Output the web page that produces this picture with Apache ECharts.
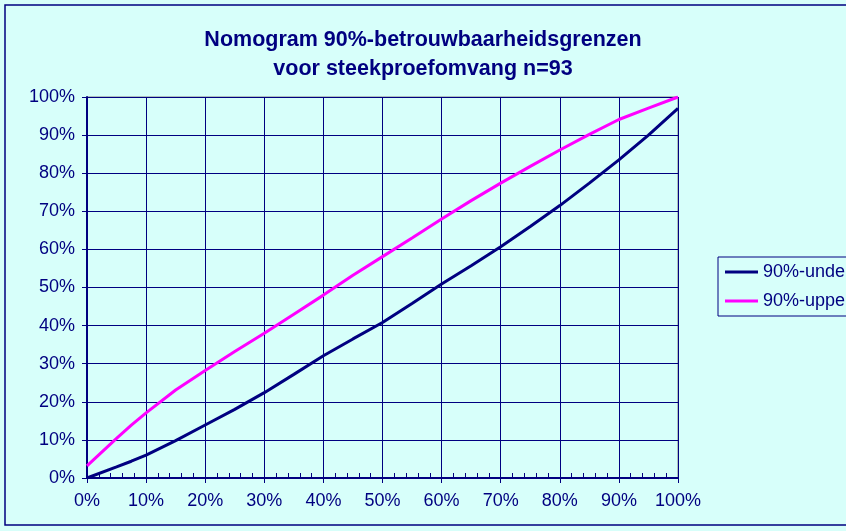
<!DOCTYPE html>
<html style="height: 100%">
	<head>
		<meta charset="utf-8">
	</head>
	<body style="height: 100%; margin: 0">
		<div id="container" style="width: 846px; height: 531px"></div>
		<script type="text/javascript" src="https://cdn.jsdelivr.net/npm/echarts@6/dist/echarts.min.js"></script>
		<script type="text/javascript">
			// steekproefpercentage (x) and the two confidence limits (y), in %
			const xs = [0, 5, 7.5, 10, 15, 20, 25, 30, 35, 40, 45, 50, 55, 60, 65, 70, 75, 80, 85, 90, 95, 100];
			const under = [0, 2.9, 4.4, 6, 9.8, 13.9, 18, 22.4, 27.2, 32.1, 36.5, 40.8, 45.8, 50.9, 55.7, 60.7, 66, 71.5, 77.4, 83.5, 90, 97];
			const upper = [3.2, 10.4, 13.9, 17.1, 23.1, 28.2, 33.2, 38, 43, 48, 53.2, 58.1, 63, 68, 72.8, 77.4, 81.8, 86.1, 90.2, 94.1, 97.1, 100];
			const seriesNames = ['90%-under', '90%-upper'];

			const navy = '#000080';
			const dom = document.getElementById('container');
			const myChart = echarts.init(dom);

			function pairs(ys) {
				return xs.map(function(x, i) { return [x, ys[i]]; });
			}

			const labelStyle = {
				color: navy,
				fontFamily: 'Liberation Sans, Arial, sans-serif',
				fontSize: 18
			};

			const option = {
				backgroundColor: '#d7fffa',
				animation: false,
				title: {
					text: 'Nomogram 90%-betrouwbaarheidsgrenzen\nvoor steekproefomvang n=93',
					left: 'center',
					top: 26,
					padding: [0, 0, 0, 6],
					textStyle: {
						color: navy,
						fontFamily: 'Liberation Sans, Arial, sans-serif',
						fontWeight: 'bold',
						fontSize: 21.5,
						lineHeight: 29
					}
				},
				legend: {
					orient: 'vertical',
					left: 718,
					top: 257,
					padding: [6, 20, 6, 7],
					itemGap: 11,
					itemWidth: 33,
					itemHeight: 3,
					icon: 'rect',
					borderColor: navy,
					borderWidth: 1,
					textStyle: labelStyle,
					data: seriesNames
				},
				grid: {
					left: 87,
					right: 168,
					top: 97,
					bottom: 53,
					show: true,
					borderColor: '#808080',
					borderWidth: 1,
					backgroundColor: 'transparent'
				},
				xAxis: [{
					type: 'value',
					min: 0,
					max: 100,
					interval: 10,
					axisLine: { lineStyle: { color: navy, width: 2 } },
					axisTick: { length: 5, lineStyle: { color: navy } },
					axisLabel: Object.assign({ margin: 14, formatter: '{value}%' }, labelStyle),
					splitLine: { lineStyle: { color: navy, width: 1 } }
				}, {
					// small inward ticks every 2%
					type: 'value',
					position: 'bottom',
					min: 0,
					max: 100,
					interval: 2,
					axisLine: { show: false },
					axisTick: { show: true, inside: true, length: 5, lineStyle: { color: navy, width: 1 } },
					axisLabel: { show: false },
					splitLine: { show: false }
				}],
				yAxis: {
					type: 'value',
					min: 0,
					max: 100,
					interval: 10,
					axisLine: { show: true, lineStyle: { color: navy, width: 2 } },
					axisTick: { show: true, length: 5, lineStyle: { color: navy } },
					axisLabel: Object.assign({ margin: 12, formatter: '{value}%' }, labelStyle),
					splitLine: { lineStyle: { color: navy, width: 1 } }
				},
				graphic: [{
					type: 'rect',
					shape: { x: 5, y: 5, width: 900, height: 520 },
					style: { fill: 'none', stroke: navy, lineWidth: 1.5 },
					silent: true
				}],
				series: [{
					name: seriesNames[0],
					type: 'line',
					showSymbol: false,
					color: navy,
					lineStyle: { color: navy, width: 3 },
					data: pairs(under)
				}, {
					name: seriesNames[1],
					type: 'line',
					showSymbol: false,
					color: '#ff00ff',
					lineStyle: { color: '#ff00ff', width: 3 },
					data: pairs(upper)
				}]
			};

			myChart.setOption(option);
		</script>
	</body>
</html>
